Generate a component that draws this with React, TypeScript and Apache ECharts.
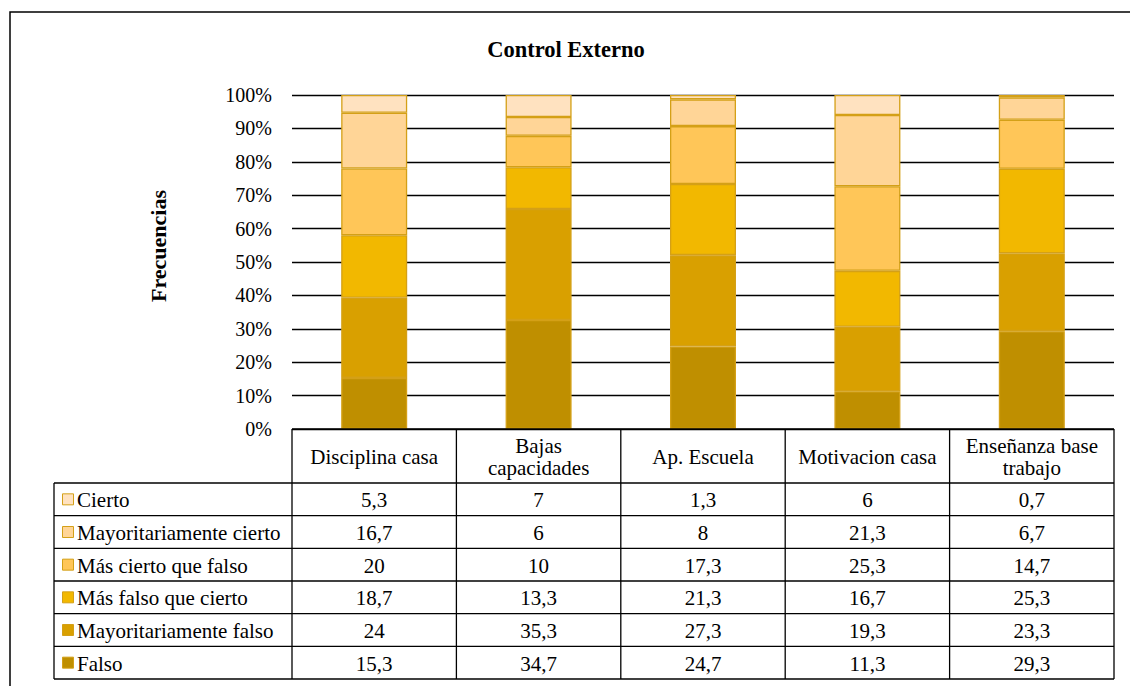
import React, { useEffect, useRef } from "react";
import * as echarts from "echarts";

const categories = ["Disciplina casa", "Bajas\ncapacidades", "Ap. Escuela", "Motivacion casa", "Enseñanza base\ntrabajo"];
// bottom to top of stack
const seriesNames = ["Falso", "Mayoritariamente falso", "Más falso que cierto", "Más cierto que falso", "Mayoritariamente cierto", "Cierto"];
const falso = [15.3, 34.7, 24.7, 11.3, 29.3];
const mayFalso = [24, 35.3, 27.3, 19.3, 23.3];
const masFalso = [18.7, 13.3, 21.3, 16.7, 25.3];
const masCierto = [20, 10, 17.3, 25.3, 14.7];
const mayCierto = [16.7, 6, 8, 21.3, 6.7];
const cierto = [5.3, 7, 1.3, 6, 0.7];
const seriesValues = [falso, mayFalso, masFalso, masCierto, mayCierto, cierto];
const colors = ["#BF8F00", "#D9A000", "#F2B800", "#FFC658", "#FFD597", "#FFE2C0"];
const yTicks = [0, 10, 20, 30, 40, 50, 60, 70, 80, 90, 100];

const FONT = "Liberation Serif";

function txt(text: string, x: number, y: number, opts: any = {}) {
  return {
    type: "text",
    x,
    y,
    rotation: opts.rotation || 0,
    z: 20,
    style: {
      text,
      fontFamily: FONT,
      fontSize: opts.fontSize || 21,
      fontWeight: opts.fontWeight || "normal",
      lineHeight: opts.lineHeight || 22,
      fill: "#000",
      align: opts.align || "center",
      verticalAlign: "middle",
    },
  };
}

export default function App() {
  const ref = useRef<HTMLDivElement>(null);
  useEffect(() => {
    const chart = echarts.init(ref.current!, null, { renderer: "svg" });
    const totals = categories.map((_, i) => seriesValues.reduce((s, arr) => s + arr[i], 0));

    const tableLeft = 54;
    const colStart = 292;
    const tableRight = 1114;
    const headerTop = 429;
    const headerBottom = 483;
    const tableBottom = 679;
    const rowH = (tableBottom - headerBottom) / 6;
    const colW = (tableRight - colStart) / categories.length;
    const lineStyle = { stroke: "#000", lineWidth: 1.3 };

    const graphics: any[] = [];
    graphics.push({ type: "rect", shape: { x: 10, y: 12, width: 1140, height: 700 }, style: { fill: "none", stroke: "#000", lineWidth: 1.5 }, silent: true });
    graphics.push(txt("Control Externo", 566, 49, { fontSize: 22.5, fontWeight: "bold" }));
    graphics.push(txt("Frecuencias", 158, 246, { fontSize: 22, fontWeight: "bold", rotation: Math.PI / 2 }));

    graphics.push({ type: "line", shape: { x1: colStart, y1: headerTop, x2: tableRight, y2: headerTop }, style: lineStyle, z: 10 });
    for (let k = 0; k <= 6; k++) {
      const y = headerBottom + k * rowH;
      graphics.push({ type: "line", shape: { x1: tableLeft, y1: y, x2: tableRight, y2: y }, style: lineStyle, z: 10 });
    }
    graphics.push({ type: "line", shape: { x1: tableLeft, y1: headerBottom, x2: tableLeft, y2: tableBottom }, style: lineStyle, z: 10 });
    for (let i = 0; i <= categories.length; i++) {
      const x = colStart + i * colW;
      graphics.push({ type: "line", shape: { x1: x, y1: headerTop, x2: x, y2: tableBottom }, style: lineStyle, z: 10 });
    }
    categories.forEach((c, i) => {
      graphics.push(txt(c, colStart + (i + 0.5) * colW, (headerTop + headerBottom) / 2 + 1));
    });
    for (let r = 0; r < 6; r++) {
      const si = 5 - r;
      const cy = headerBottom + (r + 0.5) * rowH;
      graphics.push({ type: "rect", z: 20, shape: { x: 62.5, y: cy - 5.5, width: 11, height: 11 }, style: { fill: colors[si], stroke: "#D4A017", lineWidth: 1 } });
      graphics.push(txt(seriesNames[si], 77, cy + 1, { align: "left" }));
      seriesValues[si].forEach((v, i) => {
        graphics.push(txt(String(v).replace(".", ","), colStart + (i + 0.5) * colW, cy + 1));
      });
    }

    chart.setOption({
      animation: false,
      backgroundColor: "#fff",
      grid: { left: colStart, right: 1130 - tableRight, top: 95, bottom: 686 - headerTop },
      xAxis: {
        type: "category",
        data: categories,
        axisLine: { show: false },
        axisTick: { show: false },
        axisLabel: { show: false },
      },
      yAxis: {
        type: "value",
        min: yTicks[0],
        max: yTicks[yTicks.length - 1],
        interval: 10,
        axisLine: { show: false },
        axisTick: { show: false },
        axisLabel: { formatter: "{value}%", fontFamily: FONT, fontSize: 20, color: "#000", margin: 20 },
        splitLine: { lineStyle: { color: "#000", width: 1.3 } },
      },
      series: seriesNames.map((name, si) => ({
        name,
        type: "bar",
        stack: "total",
        barWidth: 66,
        data: seriesValues[si].map((v, i) => (v / totals[i]) * 100),
        itemStyle: { color: colors[si], borderColor: "#D4A017", borderWidth: 1.3 },
      })),
      graphic: graphics,
    });
    return () => chart.dispose();
  }, []);
  return <div ref={ref} style={{ position: "fixed", left: 0, top: 0, width: 1130, height: 686 }} />;
}
